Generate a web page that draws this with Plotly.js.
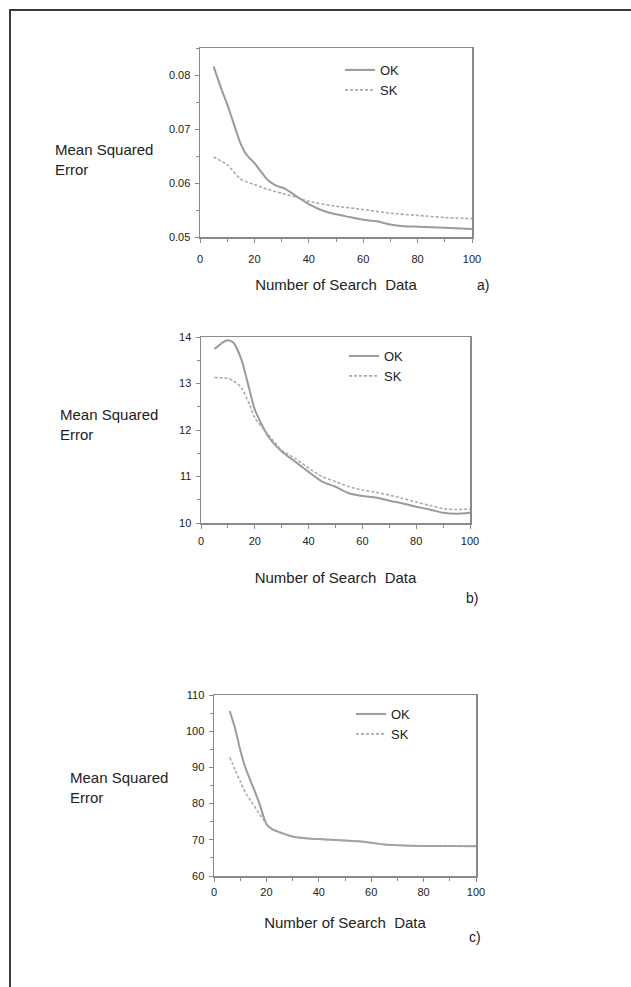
<!DOCTYPE html>
<html>
<head>
<meta charset="utf-8">
<script src="https://cdn.plot.ly/plotly-3.0.1.min.js"></script>
<style>html,body{margin:0;padding:0;background:#fff;}#chart{width:631px;height:987px;}</style>
</head>
<body>
<div id="chart"></div>
<script>
// Panel a)
const xA_OK = [5,8,10,12,15,17,20,22,25,28,31,35,40,45,50,55,60,65,70,75,80,90,100];
const yA_OK = [0.0816,0.0772,0.0746,0.0716,0.0672,0.0653,0.0637,0.0624,0.0605,0.0595,0.0590,0.0577,0.0561,0.0549,0.0542,0.0537,0.0532,0.0529,0.0523,0.0520,0.0519,0.0517,0.0515];
const xA_SK = [5,10,15,20,25,30,35,40,50,60,70,80,90,100];
const yA_SK = [0.0648,0.0634,0.0607,0.0597,0.0588,0.0581,0.0574,0.0566,0.0557,0.0551,0.0544,0.0540,0.0536,0.0534];
// Panel b)
const xB = [5,8,10,12,15,18,20,25,30,35,40,45,50,55,60,65,70,75,80,85,90,95,100];
const yB_OK = [13.74,13.88,13.93,13.88,13.52,12.87,12.44,11.86,11.54,11.32,11.10,10.89,10.78,10.64,10.58,10.55,10.48,10.42,10.35,10.29,10.22,10.20,10.22];
const yB_SK = [13.13,13.12,13.11,13.06,12.91,12.55,12.26,11.90,11.57,11.39,11.18,11.00,10.89,10.78,10.71,10.66,10.60,10.53,10.45,10.38,10.31,10.29,10.30];
// Panel c)
const xC = [6,8,10,12,15,17,20,22,25,30,35,40,45,50,55,60,65,70,80,90,100];
const yC_OK = [105.6,100.9,94.9,89.9,84.4,80.7,74.4,73.0,72.1,70.9,70.4,70.2,70.0,69.8,69.6,69.2,68.7,68.5,68.3,68.3,68.2];
const yC_SK = [92.8,89.4,86.2,83.0,79.8,77.5,74.4,73.0,72.1,70.9,70.4,70.2,70.0,69.8,69.6,69.2,68.7,68.5,68.3,68.3,68.2];

const seriesNames = ['OK','SK'];
const xTicks = [0,20,40,60,80,100];
const yTitleText = 'Mean Squared<br>Error';
const xTitleText = 'Number of Search  Data';
const panelLabels = ['a)','b)','c)'];

const W = 631, H = 987;
const px = v => v / W;
const py = v => 1 - v / H;

const okLine = {color:'#9b9b9b', width:2, shape:'spline', smoothing:0.6};
const skLine = {color:'#ababab', width:1.6, dash:'3px,2px', shape:'spline', smoothing:0.6};
const font = 'Liberation Sans, Arial, sans-serif';

const traces = [
  {x:xA_OK, y:yA_OK, name:seriesNames[0], mode:'lines', line:okLine, xaxis:'x', yaxis:'y', legend:'legend'},
  {x:xA_SK, y:yA_SK, name:seriesNames[1], mode:'lines', line:skLine, xaxis:'x', yaxis:'y', legend:'legend'},
  {x:xB, y:yB_OK, name:seriesNames[0], mode:'lines', line:okLine, xaxis:'x2', yaxis:'y2', legend:'legend2'},
  {x:xB, y:yB_SK, name:seriesNames[1], mode:'lines', line:skLine, xaxis:'x2', yaxis:'y2', legend:'legend2'},
  {x:xC, y:yC_OK, name:seriesNames[0], mode:'lines', line:okLine, xaxis:'x3', yaxis:'y3', legend:'legend3'},
  {x:xC, y:yC_SK, name:seriesNames[1], mode:'lines', line:skLine, xaxis:'x3', yaxis:'y3', legend:'legend3'}
];

function xax(dom, anchor, standoff, lblOff){
  return {domain:dom, anchor:anchor, range:[0,100], tickvals:xTicks, ticks:'outside', ticklen:4,
    ticklabelstandoff:lblOff,
    tickcolor:'#888', showline:true, linecolor:'#8a8a8a', linewidth:1.5, mirror:true,
    showgrid:false, zeroline:false, automargin:false, fixedrange:true,
    minor:{ticks:'outside', dtick:10, ticklen:3, tickcolor:'#888'},
    tickfont:{family:font, size:11, color:'#222'},
    title:{text:xTitleText, font:{family:font, size:15, color:'#222'}, standoff:standoff}};
}
function yax(dom, anchor, range, dtick, fmt){
  return {domain:dom, anchor:anchor, range:range, dtick:dtick, tickformat:fmt, ticks:'outside', ticklen:4,
    ticklabelstandoff:2,
    tickcolor:'#888', showline:true, linecolor:'#8a8a8a', linewidth:1.5, mirror:true,
    showgrid:false, zeroline:false, automargin:false, fixedrange:true,
    minor:{ticks:'outside', dtick:dtick/2, ticklen:3, tickcolor:'#888'},
    tickfont:{family:font, size:11, color:'#222'}};
}
function leg(x, y){
  return {x:px(x), y:py(y), xanchor:'left', yanchor:'top', bgcolor:'rgba(0,0,0,0)',
    font:{family:font, size:13, color:'#222'}, tracegroupgap:0, itemwidth:30};
}

const layout = {
  width:W, height:H, margin:{l:0,r:0,t:0,b:0}, paper_bgcolor:'#fff', plot_bgcolor:'#fff',
  showlegend:true,
  xaxis: xax([px(200), px(472)], 'y', 16, 7),
  yaxis: yax([py(237), py(48)], 'x', [0.05, 0.085], 0.01, '.2f'),
  xaxis2: xax([px(201), px(470)], 'y2', 27, 3),
  yaxis2: yax([py(523), py(337)], 'x2', [10, 14], 1, 'd'),
  xaxis3: xax([px(214), px(476)], 'y3', 21, 1),
  yaxis3: yax([py(876), py(695)], 'x3', [60, 110], 10, 'd'),
  legend: leg(340, 55),
  legend2: leg(344, 341),
  legend3: leg(351, 699),
  annotations: [
    {text:yTitleText, xref:'paper', yref:'paper', x:px(53), y:py(160), xanchor:'left', yanchor:'middle', align:'left', showarrow:false, font:{family:font, size:15, color:'#222'}},
    {text:yTitleText, xref:'paper', yref:'paper', x:px(58), y:py(425), xanchor:'left', yanchor:'middle', align:'left', showarrow:false, font:{family:font, size:15, color:'#222'}},
    {text:yTitleText, xref:'paper', yref:'paper', x:px(68), y:py(787), xanchor:'left', yanchor:'middle', align:'left', showarrow:false, font:{family:font, size:15, color:'#222'}},
    {text:panelLabels[0], xref:'paper', yref:'paper', x:px(483), y:py(285), xanchor:'center', yanchor:'middle', showarrow:false, font:{family:font, size:14, color:'#222'}},
    {text:panelLabels[1], xref:'paper', yref:'paper', x:px(472), y:py(598), xanchor:'center', yanchor:'middle', showarrow:false, font:{family:font, size:14, color:'#222'}},
    {text:panelLabels[2], xref:'paper', yref:'paper', x:px(475), y:py(937), xanchor:'center', yanchor:'middle', showarrow:false, font:{family:font, size:14, color:'#222'}}
  ],
  shapes: [
    {type:'rect', xref:'paper', yref:'paper', x0:px(10), x1:1.05, y0:-0.05, y1:py(10), line:{color:'#3a3a3a', width:2}, fillcolor:'rgba(0,0,0,0)', layer:'below'}
  ]
};

Plotly.newPlot('chart', traces, layout, {displayModeBar:false, staticPlot:true});
</script>
</body>
</html>
